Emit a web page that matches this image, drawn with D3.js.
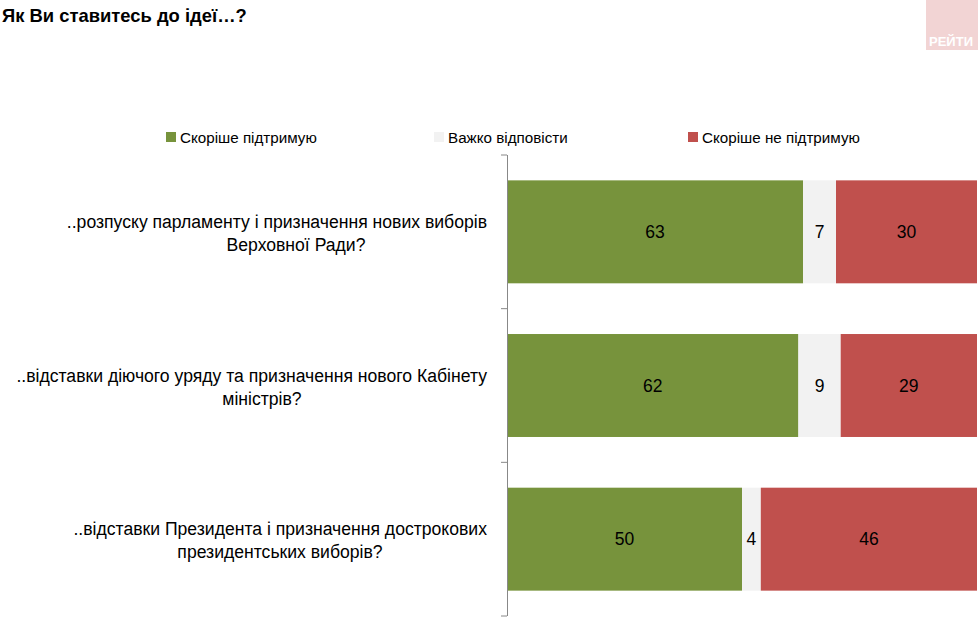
<!DOCTYPE html>
<html><head><meta charset="utf-8">
<script src="https://d3js.org/d3.v7.min.js"></script>
<style>body{margin:0;background:#fff;font-family:Arial,"Liberation Sans",sans-serif}</style>
</head><body>
<svg id="chart" width="978" height="622"></svg>
<script>
const questions = [
  ['..розпуску парламенту і призначення нових виборів', 'Верховної Ради?'],
  ['..відставки діючого уряду та призначення нового Кабінету', 'міністрів?'],
  ['..відставки Президента і призначення дострокових', 'президентських виборів?']
];
const seriesNames = ['Скоріше підтримую', 'Важко відповісти', 'Скоріше не підтримую'];
const support = [63, 62, 50];
const hard = [7, 9, 4];
const against = [30, 29, 46];
const colors = ['#77933c', '#f2f2f2', '#c0504d'];

const svg = d3.select('#chart');
// faint logo block
svg.append('rect').attr('x', 926).attr('y', 0).attr('width', 52).attr('height', 50).attr('fill', '#f2d4d4');
svg.append('text').attr('x', 929).attr('y', 46).attr('fill', '#fff').attr('font-weight', 'bold')
  .attr('font-size', 13).text('РЕЙТИ');

svg.append('text').attr('x', 2).attr('y', 22).attr('font-weight', 'bold').attr('font-size', 18.4)
  .text('Як Ви ставитесь до ідеї…?');

const x = d3.scaleLinear().domain([0, 100]).range([507, 977]);
const y = d3.scaleBand().domain(d3.range(questions.length)).range([155, 616]).paddingInner(0.33).paddingOuter(0.165);

const stack = d3.stack().keys([0, 1, 2]).value((d, k) => [support, hard, against][k][d]);
const layers = stack(d3.range(questions.length));

layers.forEach((layer, k) => {
  svg.append('g').selectAll('rect').data(layer).join('rect')
    .attr('x', d => x(d[0])).attr('width', d => x(d[1]) - x(d[0]))
    .attr('y', (d, i) => y(i)).attr('height', y.bandwidth())
    .attr('fill', colors[k]);
  svg.append('g').selectAll('text').data(layer).join('text')
    .attr('x', d => (x(d[0]) + x(d[1])) / 2).attr('y', (d, i) => y(i) + y.bandwidth() / 2 + 6)
    .attr('text-anchor', 'middle').attr('font-size', 17.5).attr('fill', '#000')
    .text(d => d[1] - d[0]);
});

// axis line with ticks between categories
svg.append('line').attr('x1', 507.5).attr('x2', 507.5).attr('y1', 155).attr('y2', 616).attr('stroke', '#888');
[0, 1, 2, 3].forEach(i => {
  const ty = 155 + (616 - 155) / 3 * i;
  svg.append('line').attr('x1', 501).attr('x2', 507).attr('y1', ty).attr('y2', ty).attr('stroke', '#888');
});

// category labels (first line right-ish, second line centred under it)
const secondLineX = [296, 262, 280];
questions.forEach((lines, i) => {
  const cy = y(i) + y.bandwidth() / 2;
  svg.append('text').attr('x', 487).attr('y', cy - 4).attr('text-anchor', 'end')
    .attr('font-size', 17.6).text(lines[0]);
  svg.append('text').attr('x', secondLineX[i]).attr('y', cy + 19).attr('text-anchor', 'middle')
    .attr('font-size', 17.6).text(lines[1]);
});

// legend
const legendX = [166, 434, 688];
seriesNames.forEach((n, k) => {
  svg.append('rect').attr('x', legendX[k]).attr('y', 132).attr('width', 10).attr('height', 10).attr('fill', colors[k]);
  svg.append('text').attr('x', legendX[k] + 14).attr('y', 143).attr('font-size', 15.2).text(n);
});
</script>
</body></html>
